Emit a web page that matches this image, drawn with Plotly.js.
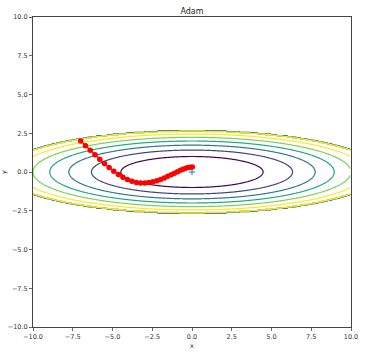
<!DOCTYPE html>
<html>
<head>
<meta charset="utf-8">
<script src="https://cdn.plot.ly/plotly-3.0.1.min.js"></script>
<style>html,body{margin:0;padding:0;background:#fff;}#chart{width:372px;height:354px;}</style>
</head>
<body>
<div id="chart"></div>
<script>
// Adam optimisation path
const pathX = [-7.0, -6.7, -6.4004, -6.1016, -5.8037, -5.5073, -5.2126, -4.9200, -4.6300, -4.3430,
  -4.0594, -3.7797, -3.5044, -3.2340, -2.9689, -2.7098, -2.4571, -2.2114, -1.9733, -1.7431,
  -1.5215, -1.3089, -1.1058, -0.9126, -0.7297, -0.5575, -0.3962, -0.2460, -0.1072, 0.0201];
const pathY = [2.0, 1.7, 1.4023, 1.1089, 0.8229, 0.5477, 0.2880, 0.0489, -0.1641, -0.3456,
  -0.4918, -0.6004, -0.6713, -0.7063, -0.7085, -0.6820, -0.6314, -0.5612, -0.4760, -0.3805,
  -0.2789, -0.1756, -0.0745, 0.0205, 0.1062, 0.1798, 0.2392, 0.2829, 0.3105, 0.3220];
// minimum marker
const minX = [0];
const minY = [0];
// axis ticks
const tickVals = [-10, -7.5, -5, -2.5, 0, 2.5, 5, 7.5, 10];
const tickText = ['\u221210.0', '\u22127.5', '\u22125.0', '\u22122.5', '0.0', '2.5', '5.0', '7.5', '10.0'];
// contour levels of f(x,y) = x^2/20 + y^2 (values above 7 masked to 0)
const levels = [1, 2, 3, 4, 5, 6];
const maskAbove = 7;

// contour grid of the objective function
const gx = [], gy = [], gz = [];
const step = 0.04;
for (let i = 0; i * step < 20; i++) gx.push(-10 + i * step);
for (let j = 0; j * step < 10; j++) gy.push(-5 + j * step);
for (let j = 0; j < gy.length; j++) {
  const row = [];
  for (let i = 0; i < gx.length; i++) {
    let z = gx[i] * gx[i] / 20 + gy[j] * gy[j];
    if (z > maskAbove) z = 0;
    row.push(z);
  }
  gz.push(row);
}

const traces = [
  {
    type: 'contour', x: gx, y: gy, z: gz,
    colorscale: 'Viridis', zmin: levels[0], zmax: levels[levels.length - 1], zauto: false,
    showscale: false, hoverinfo: 'skip',
    contours: {coloring: 'lines', start: levels[0], end: levels[levels.length - 1], size: 1},
    line: {width: 1.2, smoothing: 0}
  },
  {
    type: 'scatter', mode: 'lines+markers', x: pathX, y: pathY,
    line: {color: 'red', width: 1.3},
    marker: {color: 'red', size: 5.5}
  },
  {
    type: 'scatter', mode: 'markers', x: minX, y: minY,
    marker: {symbol: 'cross-thin', size: 4.5, line: {color: '#1f77b4', width: 1}}
  }
];

const axisCommon = {
  range: [-10, 10], tickvals: tickVals, ticktext: tickText,
  showgrid: false, zeroline: false, showline: true, mirror: true,
  linecolor: '#444', linewidth: 1, ticks: 'outside', ticklen: 3, tickwidth: 0.8, tickcolor: '#444',
  tickfont: {family: 'DejaVu Sans', size: 6.5, color: '#333'}
};

const layout = {
  width: 372, height: 354,
  margin: {l: 33, r: 21, t: 17, b: 27},
  paper_bgcolor: '#fff', plot_bgcolor: '#fff',
  showlegend: false,
  font: {family: 'DejaVu Sans', color: '#222'},
  title: {text: 'Adam', x: 0.5, xref: 'paper', xanchor: 'center', y: 1, yref: 'paper', yanchor: 'bottom',
    pad: {b: 3}, font: {family: 'DejaVu Sans', size: 8, color: '#222'}},
  xaxis: Object.assign({}, axisCommon, {title: {text: 'x', standoff: 3, font: {family: 'DejaVu Sans', size: 6.5}}}),
  yaxis: Object.assign({}, axisCommon, {title: {text: 'y', standoff: 10, font: {family: 'DejaVu Sans', size: 6.5}}})
};

Plotly.newPlot('chart', traces, layout, {staticPlot: true, displayModeBar: false});
</script>
</body>
</html>
